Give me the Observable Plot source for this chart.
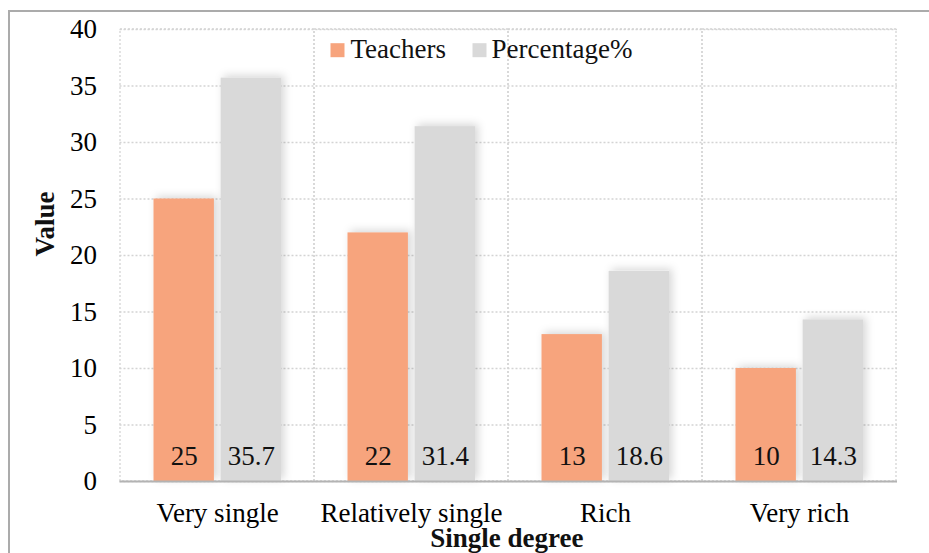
<!DOCTYPE html>
<html>
<head>
<meta charset="utf-8">
<script src="https://cdn.jsdelivr.net/npm/d3@7"></script>
<script src="https://cdn.jsdelivr.net/npm/@observablehq/plot@0.6"></script>
<style>
  html, body { margin: 0; padding: 0; background: #fff; }
  #wrap { position: relative; width: 929px; height: 553px; overflow: hidden; background: #fff; }
  #wrap svg { position: absolute; left: 0; top: 0; }
  #border { position: absolute; left: 8px; top: 10px; width: 1000px; height: 1000px;
            border-left: 2px solid #ababab; border-top: 2px solid #ababab; box-sizing: border-box; pointer-events: none; }
</style>
</head>
<body>
<div id="wrap"><div id="border"></div></div>
<script>
// ---- data ----
const categories = ["Very single", "Relatively single", "Rich", "Very rich"];
const series = ["Teachers", "Percentage%"];
const teachers = [25, 22, 13, 10];
const percentage = [35.7, 31.4, 18.6, 14.3];
const yTicks = [0, 5, 10, 15, 20, 25, 30, 35, 40];
const colors = ["#F7A47D", "#D9D9D9"];

const rowsT = categories.map((c, i) => ({category: c, series: series[0], value: teachers[i]}));
const rowsP = categories.map((c, i) => ({category: c, series: series[1], value: percentage[i]}));

const serif = "'Liberation Serif', 'Times New Roman', Times, serif";
const grid = {stroke: "#d4d4d4", strokeDasharray: "2,2", strokeWidth: 1.3};

const chart = Plot.plot({
  width: 929,
  height: 553,
  marginLeft: 119.5,
  marginRight: 32,
  marginTop: 29,
  marginBottom: 72,
  style: {fontFamily: serif, fontSize: "27px", color: "#000", background: "transparent", overflow: "visible"},
  x: {type: "band", domain: categories, padding: 0, tickSize: 0, tickPadding: 21.5, label: null},
  y: {domain: [0, 40], ticks: yTicks, tickSize: 0, tickPadding: 23, label: null},
  color: {domain: series, range: colors},
  marks: [
    Plot.ruleY(yTicks, {y: d => d, ...grid}),
    Plot.cell(categories, {x: d => d, fill: "none", inset: 0, ...grid}),
    Plot.barY(rowsT, {x: "category", y: "value", fill: "series", insetLeft: 33.5, insetRight: 100.1}),
    Plot.barY(rowsP, {x: "category", y: "value", fill: "series", insetLeft: 100.6, insetRight: 33}),
    Plot.ruleY([0], {stroke: "#b3b3b3", strokeWidth: 2}),
    Plot.text(rowsT, {x: "category", text: d => String(d.value), frameAnchor: "bottom", lineAnchor: "middle", dx: -33.3, dy: -25.6, fill: "#111"}),
    Plot.text(rowsP, {x: "category", text: d => String(d.value), frameAnchor: "bottom", lineAnchor: "middle", dx: 33.8, dy: -25.6, fill: "#111"}),
    // legend
    Plot.dot([series[0]], {frameAnchor: "top-left", dx: 217.5, dy: 20.7, symbol: "square", r: 7.9, fill: d => d}),
    Plot.text([series[0]], {text: d => d, frameAnchor: "top-left", textAnchor: "start", lineAnchor: "middle", dx: 230.5, dy: 19.5, fill: "#111"}),
    Plot.dot([series[1]], {frameAnchor: "top-left", dx: 359.5, dy: 20.7, symbol: "square", r: 7.9, fill: d => d}),
    Plot.text([series[1]], {text: d => d, frameAnchor: "top-left", textAnchor: "start", lineAnchor: "middle", dx: 371.5, dy: 19.5, fill: "#111"}),
    // axis titles
    Plot.text(["Value"], {text: d => d, frameAnchor: "left", rotate: -90, dx: -74.2, dy: 1, fontWeight: "bold", fill: "#111"}),
    Plot.text(["Single degree"], {text: d => d, frameAnchor: "bottom", lineAnchor: "middle", dx: -2, dy: 57, fontWeight: "bold", fill: "#111"})
  ]
});

// soft shadow behind bars
const svg = d3.select(chart);
const defs = svg.insert("defs", ":first-child");
const f = defs.append("filter").attr("id", "barShadow").attr("x", "-30%").attr("y", "-30%").attr("width", "160%").attr("height", "160%");
f.append("feDropShadow").attr("dx", 3).attr("dy", -2).attr("stdDeviation", 4)
  .attr("flood-color", "#000").attr("flood-opacity", 0.16);
svg.selectAll("g[aria-label='bar'] rect").attr("filter", "url(#barShadow)");

document.getElementById("wrap").appendChild(chart);
</script>
</body>
</html>
